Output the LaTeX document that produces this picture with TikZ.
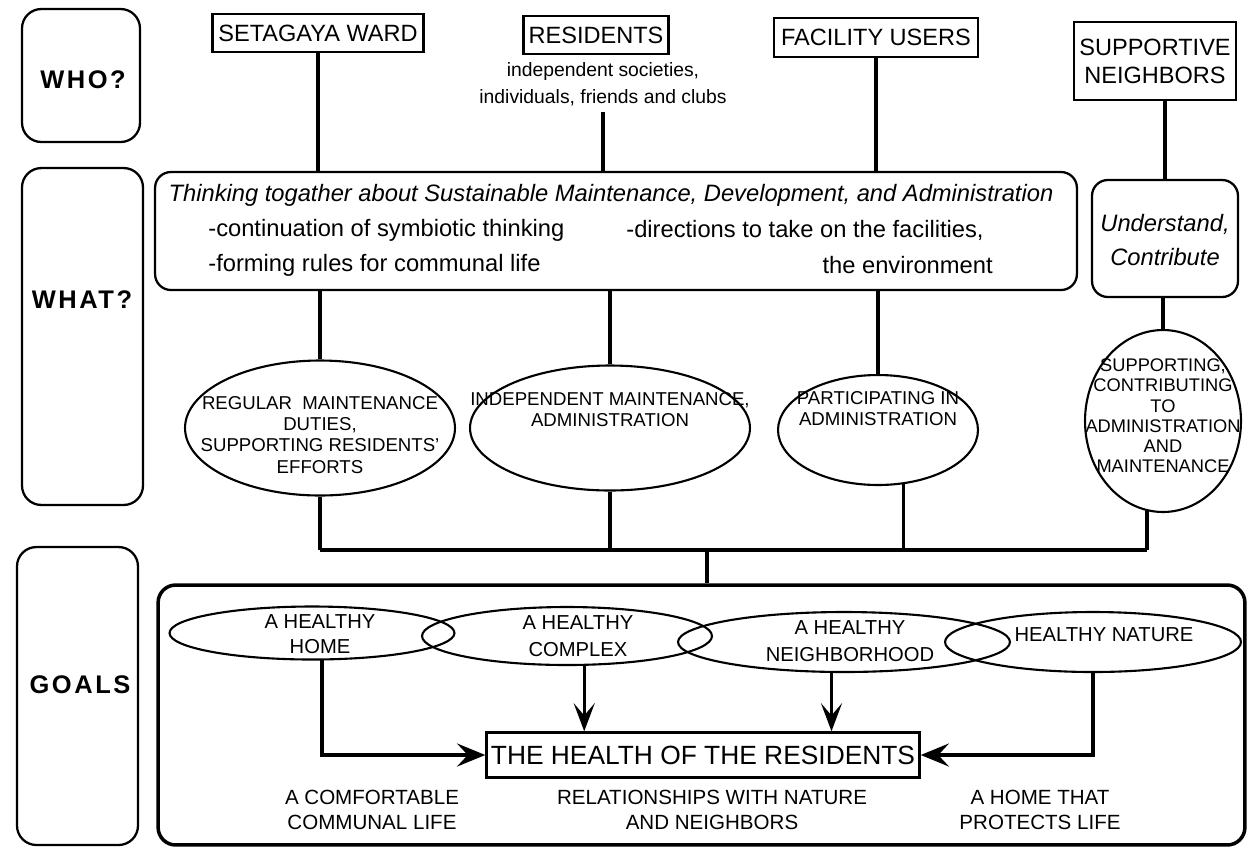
\documentclass[tikz,border=0pt]{standalone}
\usepackage{fontspec}
\setmainfont{Liberation Sans}
\usetikzlibrary{positioning,arrows.meta,shapes.geometric}

\begin{document}
\begin{tikzpicture}[
  x=0.02cm, y=-0.02cm,
  sidebox/.style={draw=black, line width=1.3pt, rounded corners=11pt, inner sep=0pt},
  sidelabel/.style={font=\fontsize{14.5}{17}\selectfont\bfseries\addfontfeature{LetterSpace=10}},
  whobox/.style={draw=black, line width=1.3pt, align=center, inner sep=0pt, font=\fontsize{13.4}{16}\selectfont},
  talkbox/.style={draw=black, line width=1.3pt, rounded corners=9pt, inner sep=0pt},
  talktext/.style={align=center, font=\itshape\fontsize{13.5}{19}\selectfont},
  itemtext/.style={inner sep=0pt, font=\fontsize{13.5}{16}\selectfont},
  notelabel/.style={align=center, font=\fontsize{11}{15.3}\selectfont},
  oval/.style={draw=black, ellipse, line width=1.2pt, inner sep=0pt},
  ovaltext/.style={align=center, font=\fontsize{10.6}{12}\selectfont},
  goaltext/.style={align=center, font=\fontsize{11.5}{15}\selectfont},
  resultlabel/.style={align=center, font=\fontsize{11.7}{14}\selectfont},
  link/.style={line width=1.9pt},
  buslink/.style={line width=2.4pt},
  downarrow/.style={line width=1.9pt, -{Stealth[length=16pt, width=12pt, inset=7pt]}},
  sidearrow/.style={line width=2.7pt, -{Stealth[length=16pt, width=13pt, inset=6pt]}}
]
\useasboundingbox (0,0) rectangle (1248,850);

% ========== LEFT: row headings ==========
\node[sidebox, minimum width=2.36cm, minimum height=2.66cm] (who) at (81,75.5) {};
\node[sidebox, minimum width=2.42cm, minimum height=6.74cm] (what) at (82.5,336.5) {};
\node[sidebox, minimum width=2.42cm, minimum height=5.96cm] (goals) at (77.5,696) {};
\node[sidelabel] (wholbl) at (83,80) {WHO?};
\node[sidelabel] (whatlbl) at (82,300) {WHAT?};
\node[sidelabel] (goalslbl) at (80,685) {GOALS};

% ========== WHO ==========
\node[whobox, minimum width=4.22cm, minimum height=0.76cm] (ward) at (318,33) {SETAGAYA WARD};
\node[whobox, minimum width=2.9cm, minimum height=0.76cm] (residents) at (596,35) {RESIDENTS};
\node[notelabel] (resnote) at (603,84) {independent societies,\\ individuals, friends and clubs};
\node[whobox, minimum width=4.08cm, minimum height=0.78cm] (users) at (876,37.5) {FACILITY USERS};
\node[whobox, minimum width=3.24cm, minimum height=1.56cm] (neighbors) at (1155,61) {SUPPORTIVE\\ NEIGHBORS};

% ========== WHAT ==========
\node[talkbox, minimum width=18.44cm, minimum height=2.36cm] (think) at (616,231) {};
\node[talktext] (thinktitle) at (611,195)
  {Thinking togather about Sustainable Maintenance, Development, and Administration};
\node[itemtext, anchor=west] (item1) at (208,230) {-continuation of symbiotic thinking};
\node[itemtext, anchor=west] (item2) at (208,265) {-forming rules for communal life};
\node[itemtext, anchor=west] (item3) at (626,230) {-directions to take on the facilities,};
\node[itemtext, anchor=east] (item4) at (993,265) {the environment};

\node[talkbox, minimum width=2.92cm, minimum height=2.34cm] (understand) at (1165,238.5) {};
\node[talktext] (understandtxt) at (1165,240) {Understand,\\ Contribute};

% Ovals (shape first, text on top)
\node[oval, minimum width=5.4cm, minimum height=2.7cm] (e1) at (320,428) {};
\node[oval, minimum width=5.6cm, minimum height=2.5cm] (e2) at (610,428) {};
\node[oval, minimum width=4.0cm, minimum height=2.2cm] (e3) at (878,430) {};
\node[oval, minimum width=3.12cm, minimum height=3.64cm] (e4) at (1163,421) {};

\node[ovaltext] (e1txt) at (320,435) {REGULAR\ \ MAINTENANCE\\ DUTIES,\\ SUPPORTING RESIDENTS'\\ EFFORTS};
\node[ovaltext] (e2txt) at (610,410) {INDEPENDENT MAINTENANCE,\\ ADMINISTRATION};
\node[ovaltext] (e3txt) at (878,409) {PARTICIPATING IN\\ ADMINISTRATION};
\node[ovaltext, font=\fontsize{10.4}{11.5}\selectfont] (e4txt) at (1163,416)
  {SUPPORTING,\\ CONTRIBUTING\\ TO\\ ADMINISTRATION\\ AND\\ MAINTENANCE};

% ========== GOALS ==========
\node[draw=black, line width=2pt, rounded corners=10pt, minimum width=21.74cm, minimum height=5.2cm] (goalframe) at (701.5,715) {};

\node[oval, minimum width=5.7cm, minimum height=1.06cm] (g1) at (312,633) {};
\node[oval, minimum width=5.8cm, minimum height=1.16cm] (g2) at (567,636) {};
\node[oval, minimum width=6.64cm, minimum height=1.2cm] (g3) at (844,642) {};
\node[oval, minimum width=5.92cm, minimum height=1.2cm] (g4) at (1093,642) {};

\node[goaltext, font=\fontsize{11.5}{14}\selectfont] (g1txt) at (320,634) {A HEALTHY\\ HOME};
\node[goaltext] (g2txt) at (578,636) {A HEALTHY\\ COMPLEX};
\node[goaltext] (g3txt) at (850,641) {A HEALTHY\\ NEIGHBORHOOD};
\node[goaltext] (g4txt) at (1104,635) {HEALTHY NATURE};

\node[draw=black, line width=1.4pt, inner sep=0pt, minimum width=8.66cm, minimum height=0.9cm,
  font=\fontsize{15}{17}\selectfont] (health) at (703,755) {THE HEALTH OF THE RESIDENTS};

\node[resultlabel] (life) at (372,810) {A COMFORTABLE\\ COMMUNAL LIFE};
\node[resultlabel] (relations) at (712,810) {RELATIONSHIPS WITH NATURE\\ AND NEIGHBORS};
\node[resultlabel] (protect) at (1040,810) {A HOME THAT\\ PROTECTS LIFE};

% -----------------------------
% Connectors
% -----------------------------

% ===== WHO -> WHAT =====
\draw[link] (ward.south) -- (ward.south |- think.north);
\draw[link] (resnote.south) -- (resnote.south |- think.north);
\draw[link] (users.south) -- (users.south |- think.north);
\draw[link] (understand.north |- neighbors.south) -- (understand.north);

% ===== WHAT box -> ovals =====
\draw[link] (e1.north |- think.south) -- (e1.north);
\draw[link] (e2.north |- think.south) -- (e2.north);
\draw[link] (e3.north |- think.south) -- (e3.north);
\draw[link] (understand.south -| e4.north) -- (e4.north);

% ===== Ovals -> bus -> GOALS =====
\coordinate (bus) at (707,550);
\draw[link] (e1.south) -- (e1.south |- bus);
\draw[link] (e2.south) -- (e2.south |- bus);
\draw[link] (e3.-65) -- (e3.-65 |- bus);
\draw[link] (e4.-100) -- (e4.-100 |- bus);
\draw[buslink] (e1.south |- bus) -- (e4.-100 |- bus);
\draw[link] (bus) -- (bus |- goalframe.north);

% ===== Goals -> health =====
\draw[sidearrow] (g1.-70) |- (health.west);
\draw[downarrow] (g2.-60) -- (g2.-60 |- health.north);
\draw[downarrow] (g3.-112) -- (g3.-112 |- health.north);
\draw[sidearrow] (g4.south) |- (health.east);

\end{tikzpicture}
\end{document}
